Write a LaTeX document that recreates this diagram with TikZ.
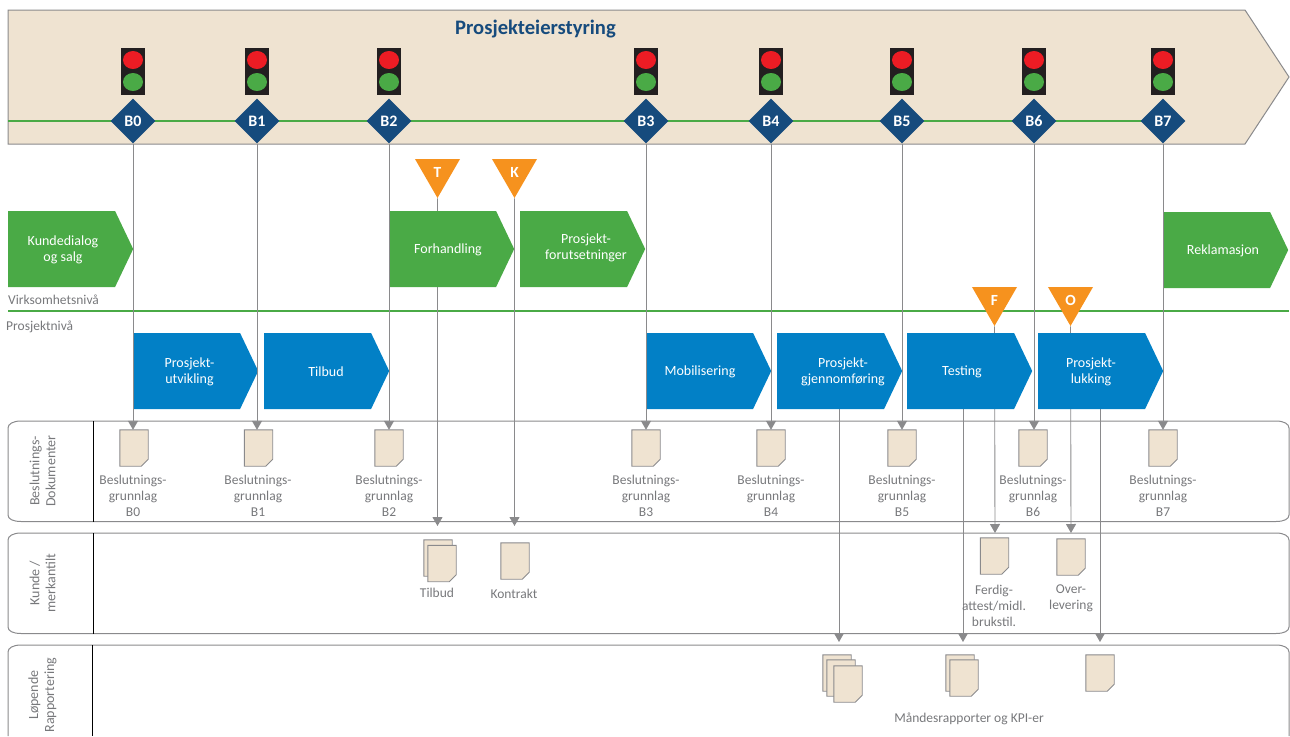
\documentclass[tikz,border=0pt]{standalone}
\usepackage{fontspec}
\setmainfont{Carlito}
\usetikzlibrary{arrows.meta,shapes.geometric,shapes.symbols}
\definecolor{sand}{HTML}{EFE3D1}
\definecolor{navy}{HTML}{164B7D}
\definecolor{grass}{HTML}{4AAA46}
\definecolor{sky}{HTML}{0280C6}
\definecolor{amber}{HTML}{F6921E}
\definecolor{rim}{HTML}{8A8A8C}
\definecolor{caption}{HTML}{77787B}
\definecolor{lampred}{HTML}{ED1C24}
\definecolor{lampbody}{HTML}{231F20}
\tikzset{
  gate/.style={diamond,fill=navy,text=white,minimum size=45pt,inner sep=0pt,font=\fontsize{16}{16}\selectfont\bfseries},
  lampbox/.style={fill=lampbody,minimum width=24pt,minimum height=47pt,inner sep=0pt},
  redlamp/.style={ellipse,fill=lampred,minimum width=20pt,minimum height=18pt,inner sep=0pt},
  greenlamp/.style={ellipse,fill=grass,minimum width=20pt,minimum height=18pt,inner sep=0pt},
  milestone/.style={regular polygon,regular polygon sides=3,shape border rotate=180,fill=amber,text=white,minimum size=52pt,inner sep=0pt,font=\fontsize{15.5}{15.5}\selectfont\bfseries},
  phase/.style={signal,signal to=east,signal pointer angle=129,minimum width=125pt,minimum height=76pt,inner sep=0pt,anchor=west},
  greenphase/.style={phase,fill=grass},
  bluephase/.style={phase,fill=sky},
  phasenote/.style={text=white,align=center,inner sep=0pt,font=\fontsize{14}{16}\selectfont},
  doc/.style={minimum width=28pt,minimum height=36pt,inner sep=0pt,
    append after command={\pgfextra{\draw[draw=rim,fill=sand,line width=.9pt]
      (\tikzlastnode.north west) -- (\tikzlastnode.north east) -- ([yshift=7pt]\tikzlastnode.south east)
      -- ([xshift=-7pt]\tikzlastnode.south east) -- (\tikzlastnode.south west) -- cycle;}}},
  docnote/.style={text=caption,align=center,font=\fontsize{13.5}{16}\selectfont,inner sep=0pt},
  levelnote/.style={text=caption,anchor=west,font=\fontsize{13.5}{16}\selectfont,inner sep=0pt},
  lanenote/.style={text=caption,align=center,rotate=90,font=\fontsize{14}{16}\selectfont,inner sep=0pt},
  flow/.style={draw=rim,line width=.9pt,-{Triangle[length=9pt,width=10pt]}},
  lane/.style={draw=rim,line width=1pt},
  lanerule/.style={draw=black,line width=.9pt},
  levelrule/.style={draw=grass,line width=1.8pt}
}
\begin{document}
\begin{tikzpicture}[x=1pt,y=-1pt]
  \useasboundingbox (0,0) rectangle (1290,736);
  % banner
  \draw[fill=sand,draw=rim,line width=1pt] (8,10) -- (1245,10) -- (1289,77) -- (1245,144) -- (8,144) -- cycle;
  \node[text=navy,font=\fontsize{20.6}{21}\selectfont\bfseries,inner sep=0pt] (title) at (535.5,29.5) {Prosjekteierstyring};
  \coordinate (linestart) at (8,121);
  \coordinate (lineend) at (1163,121);
  \draw[levelrule] (linestart) -- (lineend);
  \node[gate] (b0) at (133,121) {B0};
  \node[gate] (b1) at (257,121) {B1};
  \node[gate] (b2) at (389,121) {B2};
  \node[gate] (b3) at (646,121) {B3};
  \node[gate] (b4) at (771,121) {B4};
  \node[gate] (b5) at (902,121) {B5};
  \node[gate] (b6) at (1034,121) {B6};
  \node[gate] (b7) at (1163,121) {B7};
  % traffic lights
  \foreach \x/\n in {133/0,257/1,389/2,646/3,771/4,902/5,1034/6,1163/7}{
    \node[lampbox] (lamp\n) at (\x,71.5) {};
    \node[redlamp] (red\n) at (\x,60) {};
    \node[greenlamp] (green\n) at (\x,82) {};
  }
  % level rule
  \coordinate (levelstart) at (8,311);
  \coordinate (levelend) at (1289,311);
  \draw[levelrule] (levelstart) -- (levelend);
  \node[levelnote] (virk) at (8,300) {Virksomhetsnivå};
  \node[levelnote] (pros) at (6,327) {Prosjektnivå};
  \node[milestone] (t) at (437.5,172) {T};
  \node[milestone] (k) at (514.5,172) {K};
  \node[milestone] (f) at (994.5,300) {F};
  \node[milestone] (o) at (1070.5,300) {O};
  % lanes
  \draw[lane] (21,421) -- (1276,421) .. controls (1284,421) and (1289,424) .. (1289,428) -- (1289,515) .. controls (1289,519) and (1284,521.5) .. (1276,521.5) -- (21,521.5) .. controls (13,521.5) and (8,519) .. (8,515) -- (8,428) .. controls (8,424) and (13,421) .. (21,421) -- cycle;
  \draw[lane] (21,533) -- (1276,533) .. controls (1284,533) and (1289,536) .. (1289,540) -- (1289,627) .. controls (1289,631) and (1284,633.5) .. (1276,633.5) -- (21,633.5) .. controls (13,633.5) and (8,631) .. (8,627) -- (8,540) .. controls (8,536) and (13,533) .. (21,533) -- cycle;
  \draw[lane] (8,736) -- (8,652) .. controls (8,648) and (13,645) .. (21,645) -- (1276,645) .. controls (1284,645) and (1289,648) .. (1289,652) -- (1289,736);
  \draw[lanerule] (93.5,421) -- (93.5,521.5);
  \draw[lanerule] (93.5,533) -- (93.5,633.5);
  \draw[lanerule] (92.5,645) -- (92.5,736);
  \node[lanenote] (lanea) at (42.5,471) {Beslutnings-\\Dokumenter};
  \node[lanenote] (laneb) at (42.5,583) {Kunde /\\merkantilt};
  \node[lanenote] (lanec) at (42.5,695) {Løpende\\Rapportering};
  % documents
  \node[doc] (docb0) at (134,448) {};
  \node[doc] (docb1) at (258.5,448) {};
  \node[doc] (docb2) at (389,448) {};
  \node[doc] (docb3) at (646,448) {};
  \node[doc] (docb4) at (771,448) {};
  \node[doc] (docb5) at (902,448) {};
  \node[doc] (docb6) at (1033,448) {};
  \node[doc] (docb7) at (1163,448) {};
  \node[doc] (tilbud1) at (438,558) {};
  \node[doc] (tilbud2) at (442,563.5) {};
  \node[doc] (kontrakt) at (515,561) {};
  \node[doc] (ferdig) at (994.5,556) {};
  \node[doc] (overlev) at (1071,557) {};
  \node[doc] (rep1) at (837,673) {};
  \node[doc] (rep2) at (841,678) {};
  \node[doc] (rep3) at (848,684) {};
  \node[doc] (rep4) at (960,673) {};
  \node[doc] (rep5) at (964,678) {};
  \node[doc] (rep6) at (1100,673) {};
  % arrows that run behind the phases
  \coordinate (gstart) at (839,400);
  \coordinate (tsstart) at (963,400);
  \coordinate (lstart) at (1100,400);
  \coordinate (tend) at (437.5,526);
  \coordinate (kend) at (514.5,526);
  \coordinate (fend) at (995,533);
  \coordinate (oend) at (1071,533);
  \coordinate (gend) at (839,642);
  \coordinate (tsend) at (963,642);
  \coordinate (lend) at (1100,642);
  \draw[flow] (t.south) -- (tend);
  \draw[flow] (k.south) -- (kend);
  \draw[flow] (f.south) -- (fend);
  \draw[flow] (o.south) -- (oend);
  \draw[flow] (gstart) -- (gend);
  \draw[flow] (tsstart) -- (tsend);
  \draw[flow] (lstart) -- (lend);
  % phases
  \node[greenphase] (kunde) at (8,249) {};
  \node[greenphase] (forh) at (389,249) {};
  \node[greenphase] (forut) at (520,249) {};
  \node[greenphase] (rekl) at (1163,250) {};
  \node[bluephase] (utv) at (133,371) {};
  \node[bluephase] (tilb) at (264,371) {};
  \node[bluephase] (mob) at (646,371) {};
  \node[bluephase] (gjen) at (777,371) {};
  \node[bluephase] (test) at (907,371) {};
  \node[bluephase] (lukk) at (1038,371) {};
  \node[phasenote] (kundetxt) at (63,249.5) {Kundedialog\\og salg};
  \node[phasenote] (forhtxt) at (448,249.5) {Forhandling};
  \node[phasenote] (foruttxt) at (586,247.5) {Prosjekt-\\forutsetninger};
  \node[phasenote] (rekltxt) at (1223,251) {Reklamasjon};
  \node[phasenote] (utvtxt) at (189.5,372) {Prosjekt-\\utvikling};
  \node[phasenote] (tilbtxt) at (326,371.5) {Tilbud};
  \node[phasenote] (mobtxt) at (700,371.5) {Mobilisering};
  \node[phasenote] (gjentxt) at (843,372) {Prosjekt-\\gjennomføring};
  \node[phasenote] (testtxt) at (962,371.5) {Testing};
  \node[phasenote] (lukktxt) at (1091,372) {Prosjekt-\\lukking};
  % gate lines
  \draw[flow] (b0) -- (docb0.north -| b0);
  \draw[flow] (b1) -- (docb1.north -| b1);
  \draw[flow] (b2) -- (docb2.north -| b2);
  \draw[flow] (b3) -- (docb3.north -| b3);
  \draw[flow] (b4) -- (docb4.north -| b4);
  \draw[flow] (b5) -- (docb5.north -| b5);
  \draw[flow] (b6) -- (docb6.north -| b6);
  \draw[flow] (b7) -- (docb7.north -| b7);
  % captions
  \node[docnote] (noteb0) at (133,496) {Beslutnings-\\grunnlag\\B0};
  \node[docnote] (noteb1) at (258,496) {Beslutnings-\\grunnlag\\B1};
  \node[docnote] (noteb2) at (389,496) {Beslutnings-\\grunnlag\\B2};
  \node[docnote] (noteb3) at (646,496) {Beslutnings-\\grunnlag\\B3};
  \node[docnote] (noteb4) at (771,496) {Beslutnings-\\grunnlag\\B4};
  \node[docnote] (noteb5) at (902,496) {Beslutnings-\\grunnlag\\B5};
  \node[docnote] (noteb6) at (1033,496) {Beslutnings-\\grunnlag\\B6};
  \node[docnote] (noteb7) at (1163,496) {Beslutnings-\\grunnlag\\B7};
  \node[docnote] (notet) at (437,592.5) {Tilbud};
  \node[docnote] (notek) at (514,593.5) {Kontrakt};
  \node[docnote] (notef) at (994,606) {Ferdig-\\attest/midl.\\brukstil.};
  \node[docnote] (noteo) at (1071,598.5) {Over-\\levering};
  \node[docnote] (noter) at (969,718.5) {Måndesrapporter og KPI-er};
\end{tikzpicture}
\end{document}
